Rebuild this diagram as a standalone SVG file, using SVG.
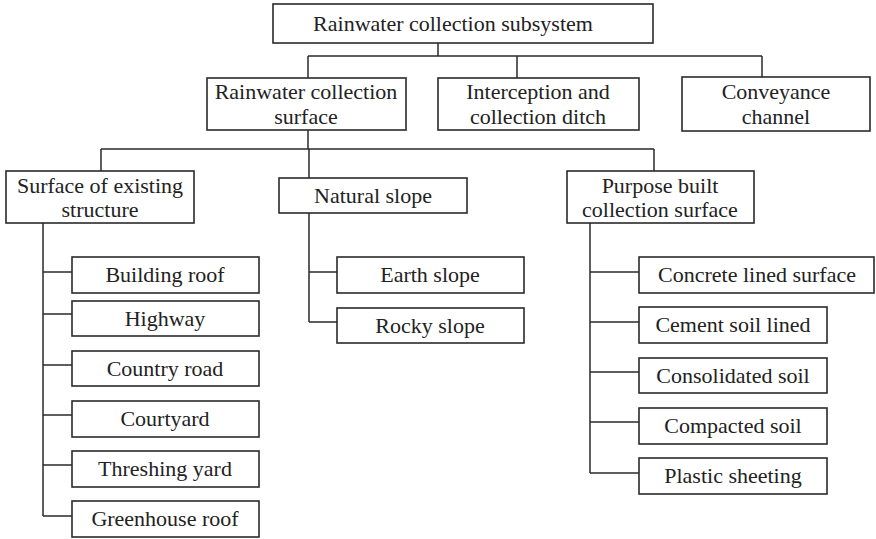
<svg xmlns="http://www.w3.org/2000/svg" width="876" height="539" viewBox="0 0 876 539">
  <style>
    .box { fill: #ffffff; stroke: #2a2a2a; stroke-width: 1.6; }
    .lbl { font-family: "Liberation Serif", "Times New Roman", serif; font-size: 22px; fill: #222222; text-anchor: middle; }
    .wire { fill: none; stroke: #2a2a2a; stroke-width: 1.5; }
  </style>
  <rect width="876" height="539" fill="#ffffff"/>

  <!-- connectors -->
  <g id="connectors" class="wire">
    <path d="M438 43V56M308 56H762M308 56V78M517 56V78M762 56V77"/>
    <path d="M308 130V149M101 149H654M101 149V171M309 149V178M654 149V171"/>
    <path d="M43 223V516M43 272H72M43 314H72M43 365H72M43 415H72M43 465H72M43 516H72"/>
    <path d="M309 213V322M309 272H337M309 322H337"/>
    <path d="M590 223V473M590 272H639M590 322H639M590 372H639M590 422H639M590 473H639"/>
  </g>

  <!-- level 0 -->
  <g id="subsystem">
    <rect class="box" x="273" y="4" width="380" height="39"/>
    <text class="lbl" x="453" y="31">Rainwater collection subsystem</text>
  </g>

  <!-- level 1 -->
  <g id="collection-surface">
    <rect class="box" x="207" y="78" width="199" height="52"/>
    <text class="lbl" x="306" y="99">Rainwater collection</text>
    <text class="lbl" x="306" y="124">surface</text>
  </g>
  <g id="interception-ditch">
    <rect class="box" x="438" y="78" width="201" height="52"/>
    <text class="lbl" x="538" y="99">Interception and</text>
    <text class="lbl" x="538" y="124">collection ditch</text>
  </g>
  <g id="conveyance-channel">
    <rect class="box" x="682" y="77" width="188" height="54"/>
    <text class="lbl" x="776" y="99">Conveyance</text>
    <text class="lbl" x="776" y="124">channel</text>
  </g>

  <!-- level 2 -->
  <g id="existing-structure">
    <rect class="box" x="6" y="171" width="188" height="52"/>
    <text class="lbl" x="100" y="193">Surface of existing</text>
    <text class="lbl" x="100" y="217">structure</text>
  </g>
  <g id="natural-slope">
    <rect class="box" x="279" y="178" width="188" height="35"/>
    <text class="lbl" x="373" y="203">Natural slope</text>
  </g>
  <g id="purpose-built">
    <rect class="box" x="567" y="171" width="187" height="52"/>
    <text class="lbl" x="660" y="193">Purpose built</text>
    <text class="lbl" x="660" y="217">collection surface</text>
  </g>

  <!-- existing structure leaves -->
  <g id="building-roof">
    <rect class="box" x="72" y="257" width="187" height="36"/>
    <text class="lbl" x="165" y="282">Building roof</text>
  </g>
  <g id="highway">
    <rect class="box" x="72" y="301" width="187" height="35"/>
    <text class="lbl" x="165" y="326">Highway</text>
  </g>
  <g id="country-road">
    <rect class="box" x="72" y="351" width="187" height="35"/>
    <text class="lbl" x="165" y="376">Country road</text>
  </g>
  <g id="courtyard">
    <rect class="box" x="72" y="401" width="187" height="36"/>
    <text class="lbl" x="165" y="426">Courtyard</text>
  </g>
  <g id="threshing-yard">
    <rect class="box" x="72" y="451" width="187" height="36"/>
    <text class="lbl" x="165" y="476">Threshing yard</text>
  </g>
  <g id="greenhouse-roof">
    <rect class="box" x="72" y="501" width="187" height="36"/>
    <text class="lbl" x="165" y="526">Greenhouse roof</text>
  </g>

  <!-- natural slope leaves -->
  <g id="earth-slope">
    <rect class="box" x="337" y="257" width="187" height="36"/>
    <text class="lbl" x="430" y="282">Earth slope</text>
  </g>
  <g id="rocky-slope">
    <rect class="box" x="337" y="308" width="187" height="35"/>
    <text class="lbl" x="430" y="333">Rocky slope</text>
  </g>

  <!-- purpose built leaves -->
  <g id="concrete-lined">
    <rect class="box" x="639" y="257" width="235" height="36"/>
    <text class="lbl" x="757" y="282">Concrete lined surface</text>
  </g>
  <g id="cement-soil">
    <rect class="box" x="639" y="307" width="188" height="36"/>
    <text class="lbl" x="733" y="332">Cement soil lined</text>
  </g>
  <g id="consolidated-soil">
    <rect class="box" x="639" y="358" width="188" height="35"/>
    <text class="lbl" x="733" y="383">Consolidated soil</text>
  </g>
  <g id="compacted-soil">
    <rect class="box" x="639" y="408" width="188" height="36"/>
    <text class="lbl" x="733" y="433">Compacted soil</text>
  </g>
  <g id="plastic-sheeting">
    <rect class="box" x="639" y="458" width="188" height="36"/>
    <text class="lbl" x="733" y="483">Plastic sheeting</text>
  </g>
</svg>
